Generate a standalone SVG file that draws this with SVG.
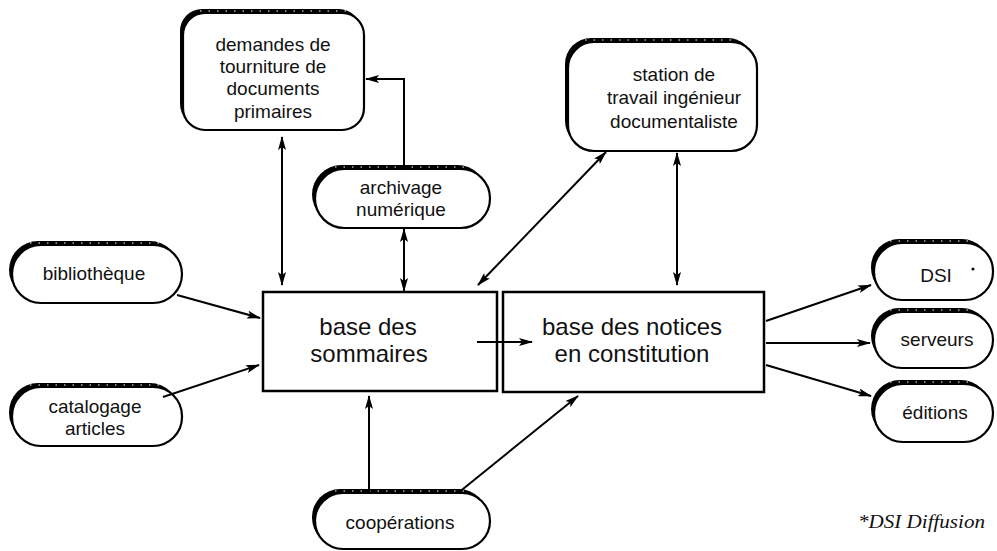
<svg xmlns="http://www.w3.org/2000/svg" width="997" height="551" viewBox="0 0 997 551">
<defs>
<marker id="ah" viewBox="0 0 14 8" markerWidth="14" markerHeight="8" refX="13" refY="4" orient="auto-start-reverse" markerUnits="userSpaceOnUse">
<path d="M0,0 L14,4 L0,8 L3,4 z" fill="#000"/>
</marker>
</defs>
<style>
.sh{fill:#000}
.nd{fill:#fff;stroke:#000;stroke-width:2.2}
.bx{fill:#fff;stroke:#000;stroke-width:2.5}
.sp{fill:none;stroke:#fff;stroke-width:1.2;stroke-dasharray:1.5 7}
.t{font-family:"Liberation Sans",Arial,sans-serif;font-size:19px;fill:#111;text-anchor:middle}
.tb{font-family:"Liberation Sans",Arial,sans-serif;font-size:24px;fill:#111;text-anchor:middle}
.c{stroke:#000;stroke-width:2;fill:none;marker-end:url(#ah)}
.c2{stroke:#000;stroke-width:2;fill:none;marker-end:url(#ah);marker-start:url(#ah)}
.fn{font-family:"Liberation Serif","Times New Roman",serif;font-style:italic;font-size:18px;fill:#111}
</style>

<g id="demandes">
<rect class="sh" x="180" y="9" width="181" height="117" rx="22"/>
<rect class="nd" x="183" y="13" width="181" height="117" rx="22"/>
<path class="sp" d="M200,11 H350"/>
<text class="t" x="273" y="51">demandes de</text>
<text class="t" x="273" y="73">tourniture de</text>
<text class="t" x="273" y="95">documents</text>
<text class="t" x="273" y="118">primaires</text>
</g>

<g id="station">
<rect class="sh" x="565" y="38" width="189" height="109" rx="26"/>
<rect class="nd" x="568" y="42" width="189" height="109" rx="26"/>
<path class="sp" d="M585,40 H745"/>
<text class="t" x="674" y="81">station de</text>
<text class="t" x="674" y="104">travail ingénieur</text>
<text class="t" x="674" y="128">documentaliste</text>
</g>

<g id="archivage">
<rect class="sh" x="312" y="165" width="175" height="59" rx="29.5"/>
<rect class="nd" x="315" y="169" width="175" height="59" rx="29.5"/>
<path class="sp" d="M335,167 H475"/>
<text class="t" x="401" y="194">archivage</text>
<text class="t" x="401" y="216">numérique</text>
</g>

<g id="bibliotheque">
<rect class="sh" x="9" y="241" width="170" height="58" rx="29"/>
<rect class="nd" x="12" y="245" width="170" height="58" rx="29"/>
<path class="sp" d="M30,243 H165"/>
<text class="t" x="94" y="280">bibliothèque</text>
</g>

<g id="catalogage">
<rect class="sh" x="9" y="383" width="170" height="59" rx="29"/>
<rect class="nd" x="12" y="387" width="170" height="59" rx="29"/>
<path class="sp" d="M30,385 H165"/>
<text class="t" x="95" y="413">catalogage</text>
<text class="t" x="95" y="435">articles</text>
</g>

<g id="dsi">
<rect class="sh" x="871" y="239" width="119" height="57" rx="28"/>
<rect class="nd" x="874" y="243" width="119" height="57" rx="28"/>
<path class="sp" d="M890,241 H980"/>
<text class="t" x="936" y="282">DSI</text>
<circle cx="973" cy="269" r="1.6" fill="#111"/>
</g>

<g id="serveurs">
<rect class="sh" x="871" y="308" width="119" height="56" rx="28"/>
<rect class="nd" x="874" y="312" width="119" height="56" rx="28"/>
<path class="sp" d="M890,310 H980"/>
<text class="t" x="937" y="346">serveurs</text>
</g>

<g id="editions">
<rect class="sh" x="871" y="380" width="119" height="58" rx="29"/>
<rect class="nd" x="874" y="384" width="119" height="58" rx="29"/>
<path class="sp" d="M890,382 H980"/>
<text class="t" x="935" y="419">éditions</text>
</g>

<g id="cooperations">
<rect class="sh" x="312" y="489" width="175" height="57" rx="28"/>
<rect class="nd" x="315" y="493" width="175" height="56" rx="28"/>
<path class="sp" d="M335,491 H475"/>
<text class="t" x="400" y="529">coopérations</text>
</g>

<g id="sommaires">
<rect class="bx" x="263" y="292" width="234" height="99"/>
<text class="tb" x="368" y="335">base des</text>
<text class="tb" x="369" y="362">sommaires</text>
</g>

<g id="notices">
<rect class="bx" x="503" y="292" width="261" height="100"/>
<text class="tb" x="632" y="335">base des notices</text>
<text class="tb" x="632" y="362">en constitution</text>
</g>

<g id="connectors">
<line class="c2" x1="282" y1="137" x2="282" y2="285"/>
<path class="c" d="M404,169 V79 H366"/>
<line class="c2" x1="404" y1="229" x2="404" y2="291"/>
<line class="c2" x1="478" y1="285" x2="606" y2="152"/>
<line class="c2" x1="677" y1="153" x2="677" y2="285"/>
<line class="c" x1="177" y1="295" x2="260" y2="318"/>
<line class="c" x1="163" y1="397" x2="259" y2="365"/>
<line class="c" x1="477" y1="342" x2="532" y2="342"/>
<line class="c" x1="369" y1="493" x2="369" y2="396"/>
<line class="c" x1="458" y1="493" x2="578" y2="396"/>
<line class="c" x1="766" y1="321" x2="871" y2="285"/>
<line class="c" x1="766" y1="343" x2="870" y2="343"/>
<line class="c" x1="766" y1="365" x2="871" y2="396"/>
</g>

<g id="footnote">
<text class="fn" x="858" y="528" textLength="127" lengthAdjust="spacingAndGlyphs">*DSI Diffusion</text>
</g>
</svg>
